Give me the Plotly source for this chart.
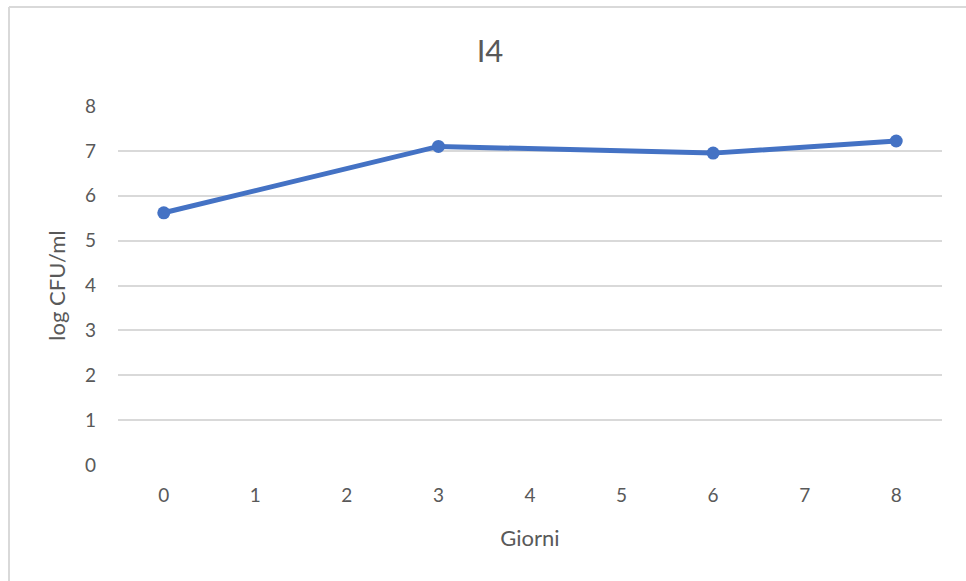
import plotly.graph_objects as go

# Days of sampling and measured counts
giorni = [0, 3, 6, 8]
log_cfu = [5.62, 7.10, 6.95, 7.22]

x_ticks = [0, 1, 2, 3, 4, 5, 6, 7, 8]
y_ticks = [0, 1, 2, 3, 4, 5, 6, 7, 8]

W, H = 966, 581
L, R, T, B = 118, 24, 106, 116
plot_w = W - L - R
plot_h = H - T - B

text_color = "#595959"
grid_color = "#D9D9D9"
line_color = "#4472C4"
font_family = "Lato, 'Open Sans', sans-serif"

fig = go.Figure()
fig.add_trace(go.Scatter(
    x=giorni, y=log_cfu,
    mode="lines+markers",
    line=dict(color=line_color, width=5),
    marker=dict(color=line_color, size=13),
    hoverinfo="x+y",
    showlegend=False,
))

# outer chart frame (left and top edges visible)
px = lambda v: (v - L) / plot_w
py = lambda v: (H - B - v) / plot_h
fig.add_shape(type="line", xref="paper", yref="paper",
              x0=px(9), x1=px(9), y0=py(7), y1=py(590),
              line=dict(color=grid_color, width=2))
fig.add_shape(type="line", xref="paper", yref="paper",
              x0=px(9), x1=px(980), y0=py(7), y1=py(7),
              line=dict(color=grid_color, width=2))

fig.update_layout(
    width=W, height=H,
    margin=dict(l=L, r=R, t=T, b=B),
    paper_bgcolor="white",
    plot_bgcolor="white",
    font=dict(family=font_family, color=text_color, size=19),
    title=dict(text="I4", x=490 / W, xref="container", xanchor="center",
               y=1 - 51 / H, yref="container", yanchor="middle",
               font=dict(size=31, color=text_color, family=font_family)),
    xaxis=dict(
        range=[-0.5, 8.5], tickvals=x_ticks, ticktext=[str(v) for v in x_ticks],
        showgrid=False, zeroline=False, showline=False,
        ticks="", ticklabelstandoff=17,
        tickfont=dict(size=19, color=text_color),
        title=dict(text="Giorni", standoff=25, font=dict(size=22, color=text_color)),
        fixedrange=True,
    ),
    yaxis=dict(
        range=[0, 8], tickvals=y_ticks, ticktext=[str(v) for v in y_ticks],
        showgrid=True, gridcolor=grid_color, gridwidth=1.5,
        zeroline=False, showline=False,
        ticks="", ticklabelstandoff=21,
        tickfont=dict(size=19, color=text_color),
        title=dict(text="log CFU/ml", standoff=13, font=dict(size=22, color=text_color)),
        fixedrange=True,
    ),
)

fig.write_html("out.html")
